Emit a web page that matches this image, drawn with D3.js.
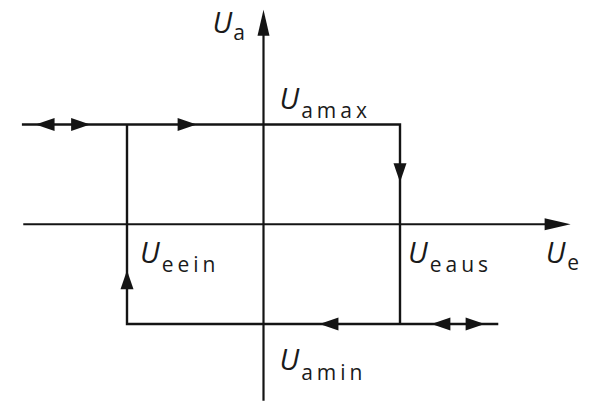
<!DOCTYPE html>
<html><head><meta charset="utf-8">
<script src="https://cdn.jsdelivr.net/npm/d3@7"></script>
<style>
html,body{margin:0;padding:0;background:#fff;}
svg text{font-family:"Open Sans","DejaVu Sans",sans-serif;font-weight:400;fill:#1a1a1a;}
</style></head><body>
<svg id="c" width="592" height="401"></svg>
<script>
// Switching thresholds and output levels (normalized)
const thresholds = [-1, 1];          // Ue_ein, Ue_aus
const levels = [-1, 1];              // Ua_min, Ua_max
const upperExtent = [-1.77, 1];      // Ue range of upper branch
const lowerExtent = [-1, 1.72];      // Ue range of lower branch
const xAxisExtent = [-1.76, 2.25];
const yAxisExtent = [-1.77, 2.15];
// arrow marks: [Ue, Ua, direction]
const arrowsUe = [-1.67, -1.27, -0.49, 1, -1, 0.41, 1.23, 1.62];
const arrowsUa = [1, 1, 1, 0.42, -0.46, -1, -1, -1];
const arrowsDir = ["left","right","right","down","up","left","left","right"];
// labels
const labelMain = ["U","U","U","U","U","U"];
const labelSub = ["a","amax","eein","eaus","e","amin"];
const labelUe = [0, 0, -1, 1, 2.25, 0];
const labelUa = [2.15, 1, 0, 0, 0, -1];

const svg = d3.select("#c");
const x = d3.scaleLinear().domain([-1, 1]).range([127, 400]);
const y = d3.scaleLinear().domain([-1, 1]).range([324, 124.5]);
const ink = "#141414", sw = 2.4;

// axes
svg.append("line").attr("x1", x(xAxisExtent[0])).attr("x2", x(xAxisExtent[1]) - 10)
  .attr("y1", y(0)).attr("y2", y(0)).attr("stroke", ink).attr("stroke-width", 2.2);
svg.append("line").attr("x1", x(0)).attr("x2", x(0))
  .attr("y1", y(yAxisExtent[0])).attr("y2", y(yAxisExtent[1]) + 10).attr("stroke", ink).attr("stroke-width", 2.2);
function tri(px, py, dir, len, hw){
  const d = {right:[1,0],left:[-1,0],up:[0,-1],down:[0,1]}[dir];
  const bx = px - d[0]*len, by = py - d[1]*len;
  const nx = -d[1], ny = d[0];
  return `M${px},${py}L${bx+nx*hw},${by+ny*hw}L${bx-nx*hw},${by-ny*hw}Z`;
}
svg.append("path").attr("d", tri(x(xAxisExtent[1]), y(0), "right", 26, 6)).attr("fill", ink);
svg.append("path").attr("d", tri(x(0), y(yAxisExtent[1]), "up", 26, 6)).attr("fill", ink);

// hysteresis loop
const loop = d3.line().x(d => x(d[0])).y(d => y(d[1]));
svg.append("path").attr("d", loop([[upperExtent[0], levels[1]], [thresholds[1], levels[1]], [thresholds[1], levels[0]]]))
  .attr("fill","none").attr("stroke", ink).attr("stroke-width", sw);
svg.append("path").attr("d", loop([[lowerExtent[1], levels[0]], [thresholds[0], levels[0]], [thresholds[0], levels[1]]]))
  .attr("fill","none").attr("stroke", ink).attr("stroke-width", sw);

// direction arrows
svg.selectAll("path.arr").data(arrowsUe.map((u,i)=>({u, a: arrowsUa[i], dir: arrowsDir[i]})))
  .join("path").attr("class","arr")
  .attr("d", d => tri(x(d.u), y(d.a), d.dir, 19, 6.5))
  .attr("fill", ink);

// labels
const offs = [[-51,23],[16,-16],[13,39],[8,39],[-25,39],[16,46]];
const subOff = [[1,7],[2,9],[2,9],[2,9],[2,7],[2,10]];
labelMain.forEach((m,i)=>{
  const t = svg.append("text")
    .attr("x", x(labelUe[i]) + offs[i][0]).attr("y", y(labelUa[i]) + offs[i][1])
    .attr("font-size", 29);
  t.append("tspan").attr("font-style","italic").text(m);
  t.append("tspan").attr("dx", subOff[i][0]).attr("dy", subOff[i][1])
    .attr("font-size", 21).attr("letter-spacing", 4).text(labelSub[i]);
});
</script></body></html>
